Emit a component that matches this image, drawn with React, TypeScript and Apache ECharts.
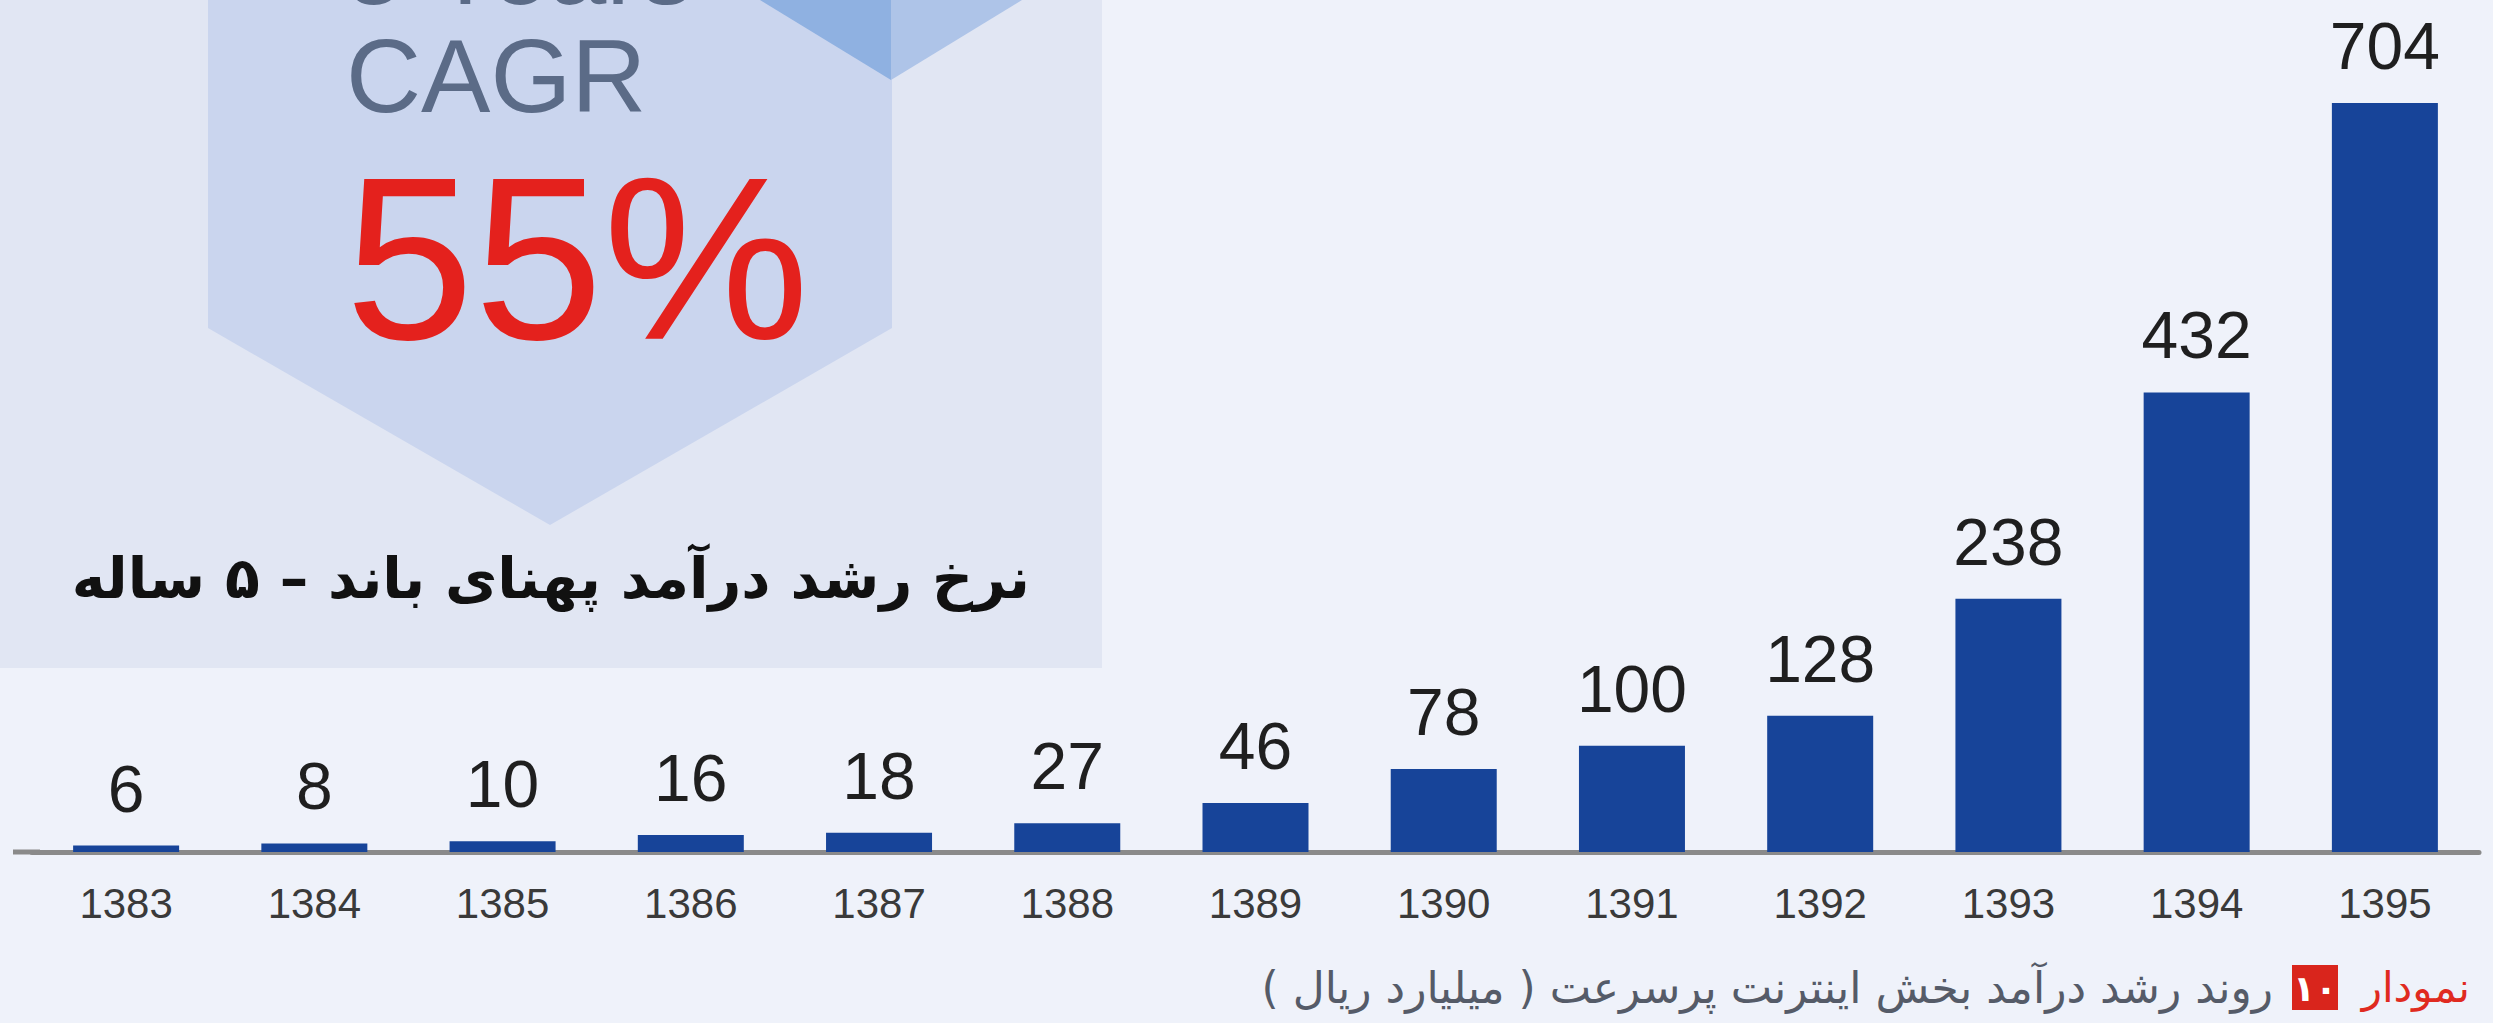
import React, { useEffect, useRef } from "react";
import * as echarts from "echarts";

const years = ["1383", "1384", "1385", "1386", "1387", "1388", "1389", "1390", "1391", "1392", "1393", "1394", "1395"];
const revenue = [6, 8, 10, 16, 18, 27, 46, 78, 100, 128, 238, 432, 704];
const cagrHeading = "5 Years\nCAGR";
const cagrValue = "55%";
const panelTitle = "نرخ رشد درآمد پهنای باند – ۵ ساله";
const captionLabel = "نمودار";
const captionNumber = "۱۰";
const captionText = "\u200Fروند رشد درآمد بخش اینترنت پرسرعت ( میلیارد ریال )\u200F";

const W = 2493;
const H = 1023;

export default function App() {
  const ref = useRef<HTMLDivElement>(null);
  useEffect(() => {
    if (!ref.current) return;
    const chart = echarts.init(ref.current, null, { renderer: "svg" });
    const num = "Liberation Sans, Arial, sans-serif";
    const fa = "DejaVu Sans, Noto Sans, sans-serif";
    chart.setOption({
      animation: false,
      backgroundColor: "#eff2fa",
      grid: { left: 32, right: 14, top: 1, bottom: 171, containLabel: false },
      xAxis: {
        type: "category",
        data: years,
        axisLine: { show: true, lineStyle: { color: "#8a8a8a", width: 5 } },
        axisTick: { show: false },
        axisLabel: { color: "#3a3a3a", fontSize: 42, fontFamily: num, margin: 30 },
      },
      yAxis: {
        type: "value",
        min: 0,
        max: 800,
        show: false,
        splitLine: { show: false },
      },
      series: [
        {
          type: "bar",
          data: revenue,
          barWidth: 106,
          itemStyle: { color: "#174499" },
          label: {
            show: true,
            position: "top",
            distance: 24,
            color: "#1f1f1f",
            fontSize: 66,
            fontFamily: num,
          },
          z: 3,
        },
      ],
      graphic: [
        { type: "line", z: -1, shape: { x1: 13, y1: 852, x2: 40, y2: 852 }, style: { stroke: "#8a8a8a", lineWidth: 5 } },
        { type: "rect", z: -10, shape: { x: 0, y: 0, width: 1102, height: 668 }, style: { fill: "#e1e6f3" } },
        {
          type: "polygon",
          z: -9,
          shape: { points: [[208, -200], [892, -200], [892, 328], [550, 525], [208, 328]] },
          style: { fill: "#cad5ee" },
        },
        { type: "polygon", z: -8, shape: { points: [[760, 0], [891, 80], [891, 0]] }, style: { fill: "#8fb1e1" } },
        { type: "polygon", z: -8, shape: { points: [[891, 0], [891, 80], [1022, 0]] }, style: { fill: "#aec4e8" } },
        {
          type: "text",
          z: -5,
          x: 346,
          y: 130,
          style: {
            text: cagrHeading,
            fill: "#5b6b87",
            fontSize: 104,
            lineHeight: 108,
            fontFamily: num,
            align: "left",
            verticalAlign: "bottom",
          },
        },
        {
          type: "text",
          z: -5,
          x: 345,
          y: 258,
          style: { text: cagrValue, fill: "#e4211d", fontSize: 232, fontFamily: num, align: "left", verticalAlign: "middle" },
        },
        {
          type: "text",
          z: -5,
          x: 1030,
          y: 578,
          style: { text: panelTitle, fill: "#111111", fontSize: 57, fontWeight: "bold", fontFamily: fa, align: "right", verticalAlign: "middle" },
        },
        {
          type: "text",
          x: 2470,
          y: 987,
          style: { text: captionLabel, fill: "#e02a20", fontSize: 42, fontFamily: fa, align: "right", verticalAlign: "middle" },
        },
        { type: "rect", shape: { x: 2292, y: 965, width: 46, height: 45 }, style: { fill: "#d9251c" } },
        {
          type: "text",
          x: 2315,
          y: 988,
          style: { text: captionNumber, fill: "#ffffff", fontSize: 36, fontWeight: "bold", fontFamily: fa, align: "center", verticalAlign: "middle" },
        },
        {
          type: "text",
          x: 2273,
          y: 987,
          style: { text: captionText, fill: "#555b68", fontSize: 44, fontFamily: fa, align: "right", verticalAlign: "middle" },
        },
      ],
    });
    return () => chart.dispose();
  }, []);
  return <div ref={ref} style={{ position: "absolute", left: 0, top: 0, width: W, height: H }} />;
}
